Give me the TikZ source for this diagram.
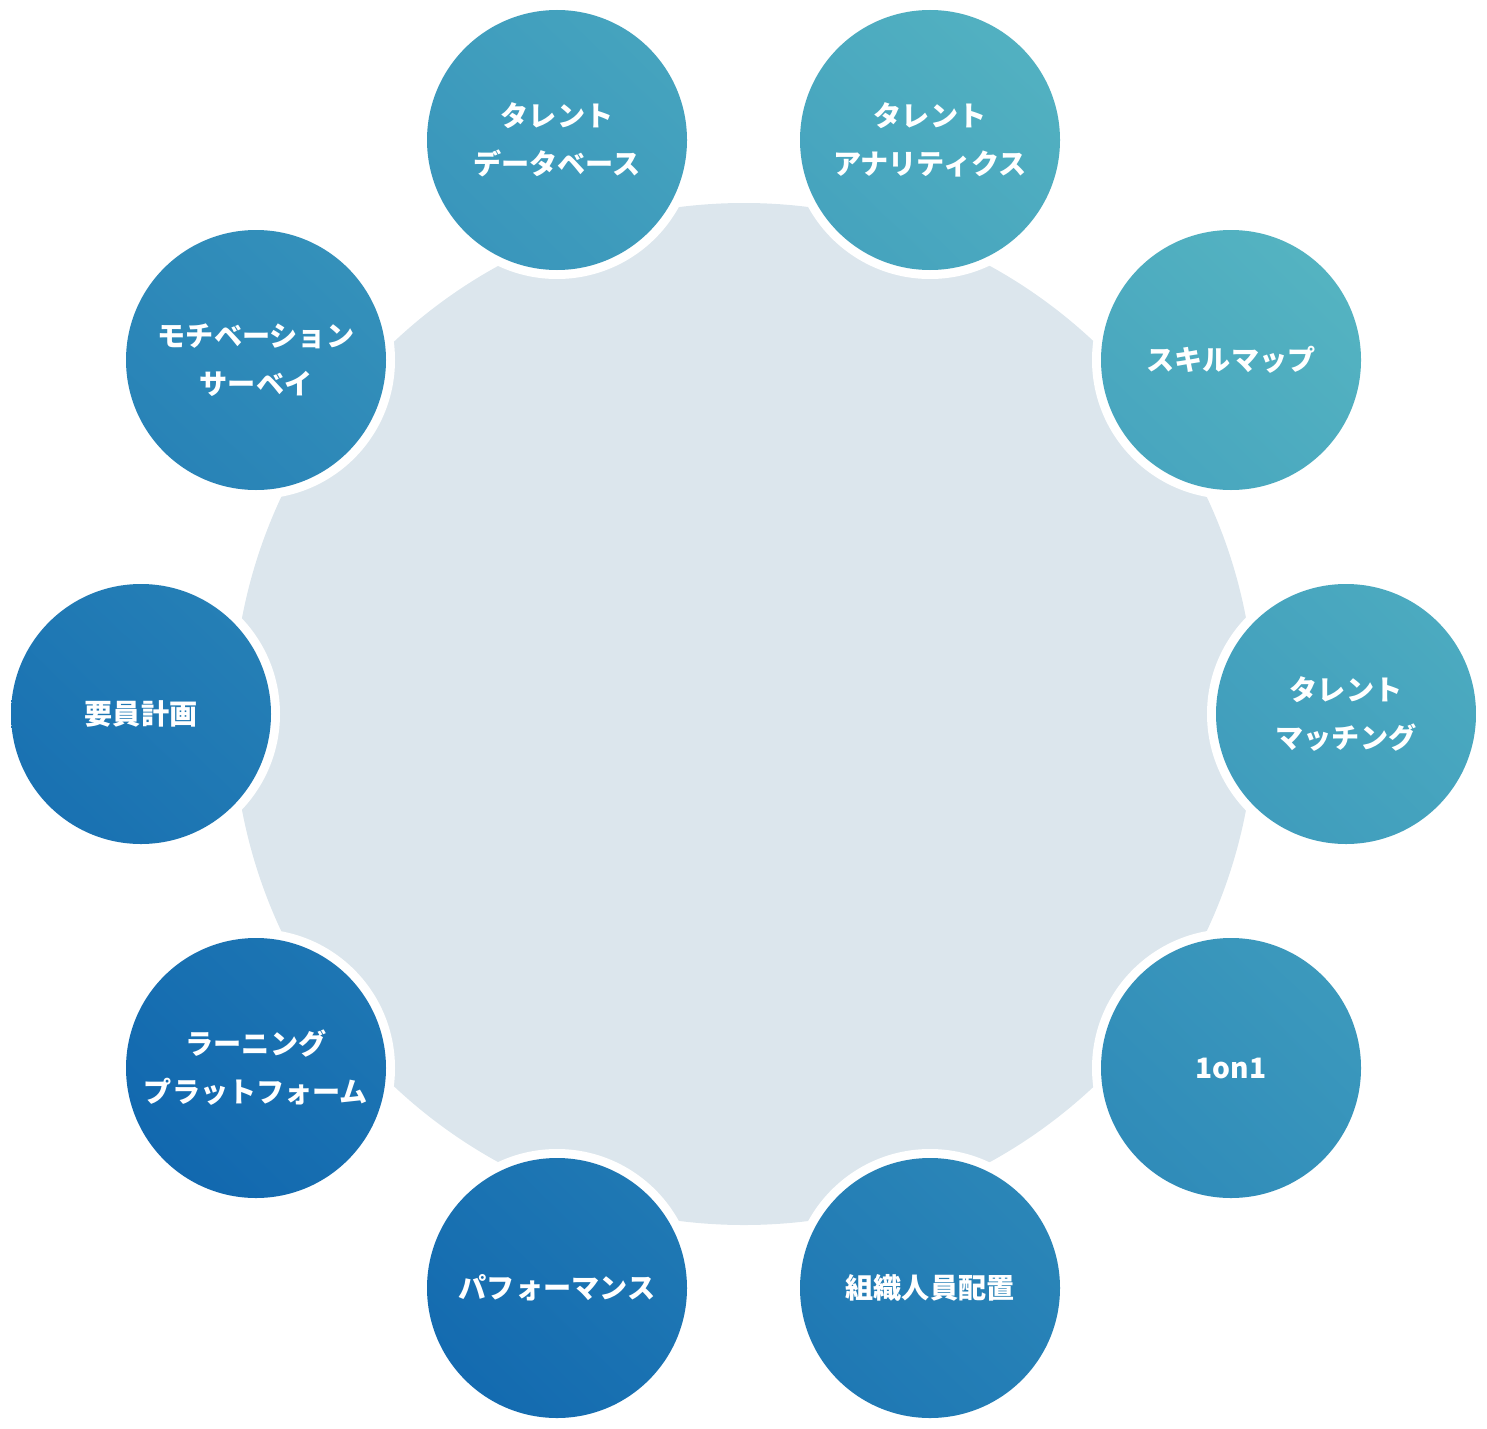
\documentclass[tikz,border=0pt]{standalone}
\usepackage{fontspec}
\usetikzlibrary{shadings}
\newfontfamily\jp{Noto Sans CJK JP}
\definecolor{bg}{HTML}{DCE6ED}
\definecolor{cdark}{HTML}{0458AA}
\definecolor{clight}{HTML}{63C3C4}
\definecolor{cmid}{HTML}{318EBB}
\begin{document}
\begin{tikzpicture}[x=0.05cm,y=-0.05cm,
  lbl/.style={text=white,font=\jp\bfseries\fontsize{40}{68}\selectfont,align=center,inner sep=0pt}]
\useasboundingbox (0,0) rectangle (1487,1429);
\fill[bg] (744,714) circle (511);
\foreach \n/\x/\y in {a/557/140,b/930/140,c/1231/360,d/1346/714,e/1231/1068,f/930/1288,g/557/1288,h/256/1068,i/141/714,j/256/360}{
  \coordinate (\n) at (\x,\y);
  \fill[white] (\n) circle (139);
}
\begin{scope}
\clip (a) circle (130) (b) circle (130) (c) circle (130) (d) circle (130) (e) circle (130)
      (f) circle (130) (g) circle (130) (h) circle (130) (i) circle (130) (j) circle (130);
\shade[lower left=cdark,upper right=clight,upper left=cmid,lower right=cmid] (0,1429) rectangle (1487,0);
\end{scope}
\node[lbl] (ta) at (a) {タレント\\データベース};
\node[lbl] (tb) at (b) {タレント\\アナリティクス};
\node[lbl] (tc) at (c) {スキルマップ};
\node[lbl] (td) at (d) {タレント\\マッチング};
\node[lbl] (te) at (e) {1on1};
\node[lbl] (tf) at (f) {組織人員配置};
\node[lbl] (tg) at (g) {パフォーマンス};
\node[lbl] (th) at (h) {ラーニング\\プラットフォーム};
\node[lbl] (ti) at (i) {要員計画};
\node[lbl] (tj) at (j) {モチベーション\\サーベイ};
\end{tikzpicture}
\end{document}
